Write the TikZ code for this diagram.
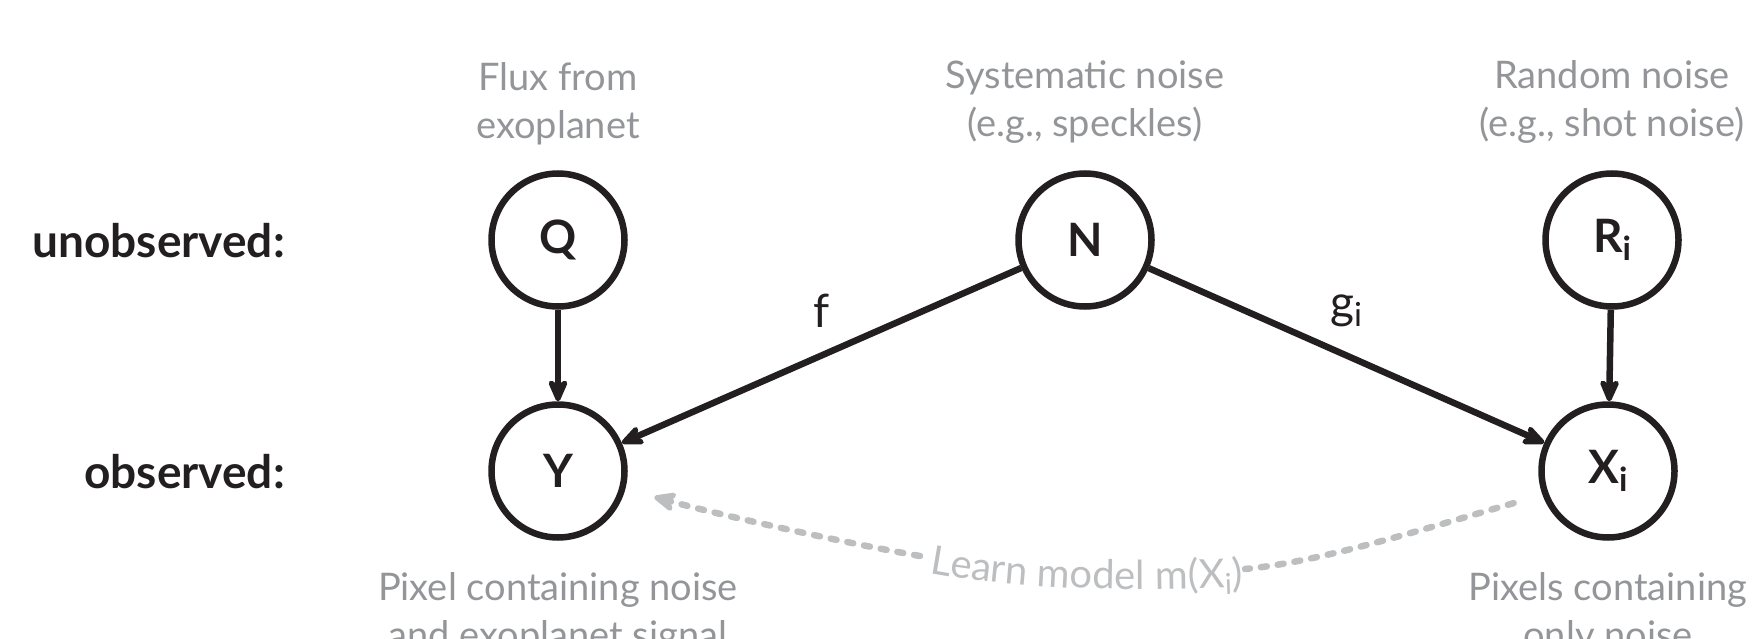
\documentclass[tikz,border=0pt]{standalone}
\usepackage{fontspec}
\setmainfont{Lato}
\usepackage{graphicx}
\usetikzlibrary{arrows.meta,decorations.text}

\definecolor{ink}{HTML}{231F20}
\definecolor{notegray}{HTML}{939598}
\definecolor{learngray}{HTML}{BCBEC0}

% lowered, reduced subscript set in the text font
\newcommand\lsub[1]{\raisebox{-0.18em}{\scalebox{0.72}{#1}}}
\newcommand\bigfont{\fontsize{46}{55}\selectfont}
\newcommand\notefont{\fontsize{38}{48.5}\selectfont}
\newcommand\learnfont{\fontsize{40}{48}\selectfont}

\tikzset{
  var/.style={circle, draw=ink, line width=6.5pt, minimum size=133pt,
    inner sep=0pt, font=\bigfont\bfseries, text=ink},
  rowlabel/.style={anchor=base east, inner sep=0pt, font=\bigfont\bfseries, text=ink},
  note/.style={anchor=north, align=center, inner sep=0pt, font=\notefont, text=notegray},
  fnlabel/.style={inner sep=0pt, font=\bigfont, text=ink},
  tip/.style={-{Stealth[length=29pt,width=25pt,inset=9pt,round]}},
  link/.style={draw=ink, line width=6.5pt, tip},
  learn/.style={draw=learngray, line width=6.5pt, line cap=round,
    dash pattern=on 6pt off 11pt},
}

\begin{document}
\begin{tikzpicture}[x=1pt,y=-1pt]
\useasboundingbox (0,0) rectangle (1754,639);
\clip (0,0) rectangle (1754,639);

% variables
\node[var] (Q) at (558,240) {Q};
\node[var] (Y) at (558,471) {Y};
\node[var] (N) at (1085,240) {N};
\node[var] (R) at (1612,240) {R\lsub{i}};
\node[var] (X) at (1608,471) {X\lsub{i}};

% row labels
\node[rowlabel] (unobs) at (285,258) {unobserved:};
\node[rowlabel] (obs) at (285,488) {observed:};

% descriptions
\node[note] (qnote) at (558,62) {Flux from\\exoplanet};
\node[note] (nnote) at (1085,60) {Systematic noise\\(e.g., speckles)};
\node[note] (rnote) at (1612,60) {Random noise\\(e.g., shot noise)};
\node[note] (ynote) at (558,572) {Pixel containing noise\\and exoplanet signal};
\node[note] (xnote) at (1608,572) {Pixels containing\\only noise};

% function labels
\node[fnlabel] (flab) at (822,311) {f};
\node[fnlabel] (glab) at (1346,311) {g\lsub{i}};

% causal links
\draw[link] (Q) -- (Y);
\draw[link] (N) -- (Y);
\draw[link] (N) -- (X);
\draw[link] (R) -- (X);

% learned model: dashed curve broken by its label
\coordinate (learnR) at (1245,569);
\coordinate (learnL) at (920,556);
\draw[learn, shorten <=30pt] (X.200) .. controls (1420,530) and (1320,562) .. (learnR);
\draw[learn, tip, shorten >=30pt] (learnL) .. controls (840,542) and (720,515) .. (Y.-15);

\path[decorate, decoration={text along path, text color=learngray,
  text={|\learnfont\color{learngray}|Learn model m(X{\lsub{i}})}}]
  (929,573) .. controls (1040,593) and (1150,591) .. (1285,585);
\end{tikzpicture}
\end{document}
